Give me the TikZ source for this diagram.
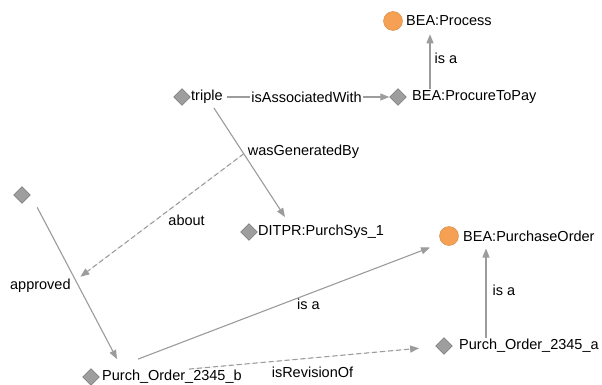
\documentclass[tikz,border=0pt]{standalone}
\usepackage{fontspec}
\setmainfont{Liberation Sans}
\usepackage{tikz}
\usetikzlibrary{arrows.meta, positioning, shapes.geometric}
\definecolor{classorange}{HTML}{F5A052}
\definecolor{edgegray}{HTML}{9C9C9C}

\begin{document}
\begin{tikzpicture}[
    x=1pt, y=-1pt,
    >={Triangle[length=9pt,width=7pt]},
    font=\fontsize{14.5}{16}\selectfont,
    inst/.style  = {diamond, draw=black!60, fill=black!38,
                    minimum size=17pt, inner sep=0pt},
    cls/.style   = {circle, draw=classorange!85!black, fill=classorange,
                    minimum size=19pt, inner sep=0pt},
    lbl/.style   = {anchor=west, inner sep=1pt},
    rel/.style   = {->, draw=edgegray, fill=edgegray, line width=1.1pt},
    reldash/.style = {rel, dashed, dash pattern=on 5pt off 3pt},
    elbl/.style  = {inner sep=1pt, text=black},
]
\useasboundingbox (0,0) rectangle (602,385);

% classes
\node[cls] (procC) at (393,21) {};
\node[lbl] (proc) at (405,21) {BEA:Process};
\node[cls] (poC) at (449,236) {};
\node[lbl] (po) at (462,236) {BEA:PurchaseOrder};

% instances
\node[inst] (tripleD) at (182,97) {};
\node[lbl] (triple) at (190,97) {triple};
\node[inst] (ptpD) at (398,97) {};
\node[lbl] (ptp) at (411,97) {BEA:ProcureToPay};
\node[inst] (blankD) at (22,195) {};
\node[inst] (ditprD) at (249,232) {};
\node[lbl] (ditpr) at (257,232) {DITPR:PurchSys\_1};
\node[inst] (bD) at (91,377) {};
\node[lbl] (b) at (101,377) {Purch\_Order\_2345\_b};
\node[inst] (aD) at (444,346) {};
\node[lbl] (a) at (458,346) {Purch\_Order\_2345\_a};

% relations
\draw[rel, shorten <=3pt] (triple.east) -- (ptpD.west)
    node[elbl, midway, fill=white] {isAssociatedWith};
\draw[rel, shorten >=7pt] ([xshift=19pt]ptp.north west)
    -- ([xshift=19pt]ptp.north west |- proc.south)
    node[elbl, midway, right=3pt] {is a};
\draw[rel] ([shift={(7pt,-3pt)}]triple.south) -- coordinate[pos=0.42] (genmid)
    ([shift={(28pt,7pt)}]ditpr.north west)
    node[elbl, pos=0.4, anchor=west, xshift=4pt] {wasGeneratedBy};
\draw[rel, shorten <=14pt] (blankD.east) -- coordinate[pos=0.52] (appmid)
    ([shift={(16pt,10pt)}]b.north west)
    node[elbl, pos=0.55, left=6pt] {approved};
\draw[reldash, shorten >=6pt] (genmid) -- (appmid)
    node[elbl, pos=0.34, yshift=-24pt] {about};
\draw[rel, shorten >=13pt] ([shift={(37pt,10pt)}]b.north west) -- (poC.south west)
    node[elbl, pos=0.56, yshift=-10pt] {is a};
\draw[reldash, shorten >=17pt] ([xshift=17pt]b.north) -- (aD)
    node[elbl, pos=0.5, yshift=-14pt] {isRevisionOf};
\draw[rel, shorten >=6pt] ([xshift=28pt]a.north west)
    -- ([xshift=28pt]a.north west |- po.south)
    node[elbl, midway, right=5pt] {is a};
\end{tikzpicture}
\end{document}
